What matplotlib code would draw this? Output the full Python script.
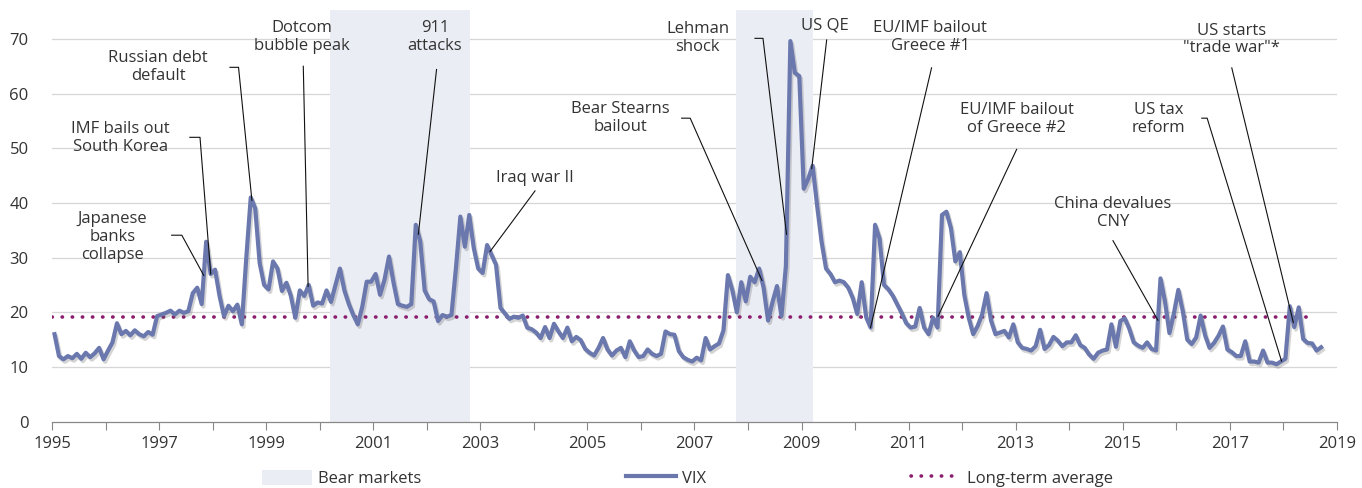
import numpy as np
import matplotlib
matplotlib.use("Agg")
import matplotlib.pyplot as plt
import matplotlib.patheffects as pe
from matplotlib.patches import Patch
from matplotlib.lines import Line2D

plt.rcParams['font.family'] = ['Open Sans', 'DejaVu Sans']

# Monthly VIX level, Jan 1995 - Sep 2018
vix = [
    16.0, 12.0, 11.4, 12.0, 11.6, 12.4, 11.5, 12.6, 11.8, 12.5, 13.5, 11.4,  # 1995
    13.0, 14.5, 18.0, 16.0, 16.6, 15.8, 16.7, 16.0, 15.6, 16.4, 15.9, 19.3,  # 1996
    19.6, 19.9, 20.3, 19.6, 20.3, 19.9, 20.2, 23.5, 24.5, 21.5, 32.9, 27.0,  # 1997
    27.8, 23.0, 19.3, 21.2, 20.2, 21.4, 17.8, 30.0, 41.0, 39.0, 29.0, 25.0,  # 1998
    24.2, 29.3, 28.0, 23.9, 25.4, 23.0, 19.0, 24.0, 23.0, 25.0, 21.2, 21.8,  # 1999
    21.6, 24.0, 21.9, 25.0, 28.0, 24.0, 21.5, 19.5, 17.8, 21.0, 25.6, 25.6,  # 2000
    27.0, 23.2, 26.0, 30.2, 25.5, 21.5, 21.2, 21.0, 21.5, 36.0, 33.0, 24.0,  # 2001
    22.4, 22.0, 18.4, 19.5, 19.2, 19.5, 28.0, 37.5, 32.0, 37.8, 31.8, 28.0,  # 2002
    27.2, 32.3, 30.5, 28.7, 20.8, 19.8, 18.8, 19.2, 19.0, 19.4, 17.2, 16.9,  # 2003
    16.3, 15.3, 17.3, 15.3, 17.9, 16.5, 15.3, 17.2, 14.7, 15.5, 14.9, 13.3,  # 2004
    12.6, 12.1, 13.5, 15.3, 13.2, 12.1, 13.0, 13.5, 11.8, 14.7, 13.0, 11.8,  # 2005
    12.0, 13.2, 12.4, 12.0, 12.4, 16.5, 16.0, 15.9, 12.9, 11.8, 11.3, 11.0,  # 2006
    11.7, 11.2, 15.3, 13.2, 13.8, 14.3, 16.7, 26.8, 24.0, 20.0, 25.5, 22.0,  # 2007
    26.5, 25.5, 28.0, 24.5, 18.5, 21.9, 24.8, 19.3, 28.5, 69.6, 63.8, 63.2,  # 2008
    42.6, 44.4, 46.8, 39.5, 32.9, 28.0, 27.0, 25.5, 25.8, 25.5, 24.5, 22.6,  # 2009
    19.7, 25.5, 19.1, 17.2, 36.0, 33.5, 25.0, 24.2, 23.0, 21.4, 19.8, 18.0,  # 2010
    17.2, 17.4, 20.8, 17.2, 16.0, 19.0, 17.2, 37.8, 38.4, 35.4, 29.3, 31.0,  # 2011
    23.2, 19.0, 16.0, 17.5, 19.6, 23.5, 18.5, 16.0, 16.3, 16.6, 15.4, 17.8,  # 2012
    14.5, 13.5, 13.3, 13.0, 13.8, 16.8, 13.3, 14.0, 15.5, 14.8, 13.8, 14.5,  # 2013
    14.5, 15.8, 14.0, 13.5, 12.3, 11.5, 12.6, 13.0, 13.2, 17.8, 13.7, 18.4,  # 2014
    18.9, 17.0, 14.5, 13.9, 13.5, 14.5, 13.3, 13.0, 26.2, 22.0, 16.2, 19.8,  # 2015
    24.1, 20.2, 15.0, 14.2, 15.4, 19.4, 15.8, 13.5, 14.4, 15.7, 17.4, 13.2,  # 2016
    12.7, 12.0, 12.0, 14.7, 11.0, 11.0, 10.8, 13.0, 10.8, 10.8, 10.5, 11.0,  # 2017
    11.5, 21.1, 17.3, 20.9, 15.1, 14.4, 14.3, 13.0, 13.6,                    # 2018
]
long_term_avg = 19.1
avg_end = 2018.6

bear_start = [2000.19, 2007.77]
bear_end = [2002.80, 2009.21]

# label text, text position (year, level), leader start, optional elbow, event date
events = [
    ("Japanese\nbanks\ncollapse", (1996.12, 33.8), (1997.23, 34.1), (1997.42, 34.1), 1997.83),
    ("IMF bails out\nSouth Korea", (1996.27, 51.9), (1997.57, 52.0), (1997.76, 52.0), 1997.96),
    ("Russian debt\ndefault", (1996.98, 64.8), (1998.32, 64.8), (1998.48, 64.8), 1998.73),
    ("Dotcom\nbubble peak", (1999.67, 70.3), (1999.69, 65.0), None, 1999.78),
    ("911\nattacks", (2002.15, 70.3), (2002.18, 64.4), None, 2001.84),
    ("Iraq war II", (2004.02, 44.6), (2004.02, 42.2), None, 2003.18),
    ("Bear Stearns\nbailout", (2005.61, 55.5), (2006.76, 55.5), (2006.92, 55.5), 2008.26),
    ("Lehman\nshock", (2007.06, 70.2), (2008.13, 70.1), (2008.28, 70.1), 2008.72),
    ("US QE", (2009.44, 72.4), (2009.47, 69.8), None, 2009.19),
    ("EU/IMF bailout\nGreece #1", (2011.40, 70.3), (2011.43, 64.7), None, 2010.29),
    ("EU/IMF bailout\nof Greece #2", (2013.02, 55.3), (2013.02, 49.8), None, 2011.55),
    ("China devalues\nCNY", (2014.82, 38.2), (2014.82, 33.1), None, 2015.66),
    ("US tax\nreform", (2015.67, 55.3), (2016.48, 55.5), (2016.58, 55.5), 2017.97),
    ("US starts\n\"trade war\"*", (2017.04, 69.9), (2017.04, 64.7), None, 2018.19),
]

vix_color = '#6a78ae'
avg_color = '#8b1f6e'
shade_color = '#ebedf4'
text_color = '#333333'

dates = 1995 + (np.arange(len(vix)) + 0.5) / 12

fig = plt.figure(figsize=(13.62, 4.88), dpi=100)
ax = fig.add_axes([0.0384, 0.1359, 0.943, 0.8438])

for s, e in zip(bear_start, bear_end):
    ax.axvspan(s, e, color=shade_color, lw=0, zorder=1)

ax.set_yticks(range(0, 71, 10))
for yv in range(10, 71, 10):
    ax.axhline(yv, color='#d6d6d6', lw=0.9, zorder=0)

ax.plot([1995, avg_end], [long_term_avg, long_term_avg], color=avg_color,
        lw=2.6, dashes=(0.1, 2.7), dash_capstyle='round', zorder=3)

ax.plot(dates, vix, color=vix_color, lw=3.0, solid_joinstyle='round', zorder=4,
        path_effects=[pe.SimpleLineShadow(offset=(1.2, -1.8), shadow_color='#555555', alpha=0.25),
                      pe.Normal()])

for label, txt, start, elbow, when in events:
    tip = (when, np.interp(when, dates, vix))
    pts = [start] + ([elbow] if elbow else []) + [tip]
    ax.plot([p[0] for p in pts], [p[1] for p in pts], color='#111111', lw=0.8, zorder=5)
    ax.text(txt[0], txt[1], label, ha='center', va='center', fontsize=12,
            color=text_color, linespacing=1.15, zorder=6)

ax.set_xlim(1995, 2019)
ax.set_ylim(0, 75.3)
ax.set_xticks(range(1995, 2020))
ax.set_xticklabels([str(y) if (y - 1995) % 2 == 0 else '' for y in range(1995, 2020)])
ax.tick_params(axis='x', length=6, color='#888888', labelsize=12, labelcolor=text_color, pad=4)
ax.tick_params(axis='y', length=0, labelsize=12, labelcolor=text_color, pad=17)
for side in ['top', 'right', 'left']:
    ax.spines[side].set_visible(False)
ax.spines['bottom'].set_color('#888888')
ax.spines['bottom'].set_linewidth(0.9)

handles = [
    Patch(facecolor=shade_color, edgecolor='none'),
    Line2D([], [], color=vix_color, lw=3.0),
    Line2D([], [], color=avg_color, lw=2.6, dashes=(0.1, 2.7), dash_capstyle='round'),
]
fig.legend(handles, ['Bear markets', 'VIX', 'Long-term average'], loc='lower left',
           bbox_to_anchor=(262 / 1362, 0.002), ncol=3, frameon=False, fontsize=12,
           handlelength=3.0, handleheight=1.0, columnspacing=12.3, handletextpad=0.35,
           borderpad=0, borderaxespad=0, labelcolor=text_color)

fig.savefig('out.png', dpi=100)
